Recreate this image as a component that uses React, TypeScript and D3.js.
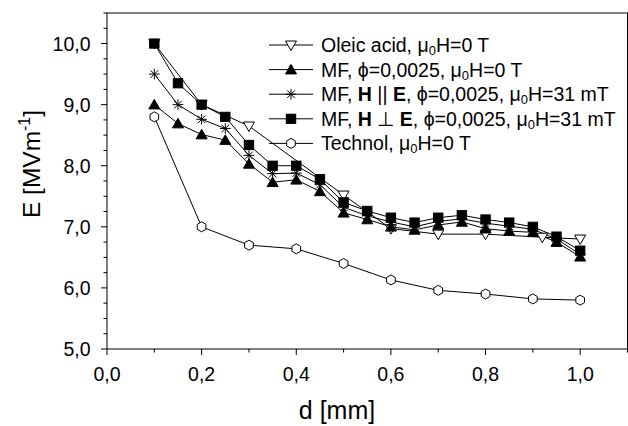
import React from 'react';
import * as d3 from 'd3';

const W = 628;
const H = 426;
const plot = { left: 107, right: 627.5, top: 13, bottom: 349 };
const FONT = "'Liberation Sans', Arial, sans-serif";

// thickness d [mm]
const dFine = [0.1, 0.15, 0.2, 0.25, 0.3, 0.35, 0.4, 0.45, 0.5, 0.55, 0.6, 0.65, 0.7, 0.75, 0.8, 0.85, 0.9, 0.95, 1.0];
const dOleic = [0.1, 0.2, 0.3, 0.5, 0.6, 0.7, 0.8, 0.92, 1.0];
const dTechnol = [0.1, 0.2, 0.3, 0.4, 0.5, 0.6, 0.7, 0.8, 0.9, 1.0];

// breakdown field E [MV/m]
const eOleic = [10.0, 9.0, 8.65, 7.52, 6.97, 6.88, 6.88, 6.83, 6.8];
const eMF = [9.0, 8.69, 8.51, 8.42, 8.03, 7.73, 7.77, 7.58, 7.23, 7.12, 7.0, 6.95, 7.03, 7.08, 6.97, 6.93, 6.91, 6.75, 6.51];
const eParallel = [9.5, 9.0, 8.76, 8.61, 8.17, 7.87, 7.88, 7.69, 7.32, 7.18, 7.08, 7.0, 7.09, 7.13, 7.06, 7.01, 6.96, 6.8, 6.55];
const ePerp = [10.0, 9.35, 9.0, 8.8, 8.34, 8.0, 8.0, 7.78, 7.4, 7.26, 7.15, 7.07, 7.15, 7.19, 7.12, 7.07, 7.0, 6.84, 6.61];
const eTechnol = [8.8, 7.0, 6.7, 6.64, 6.4, 6.13, 5.96, 5.9, 5.82, 5.8];

const xTicks = [0, 0.2, 0.4, 0.6, 0.8, 1.0];
const yTicks = [5, 6, 7, 8, 9, 10];

type Seg = { t: string; b?: boolean; sub?: boolean };

const series = [
  { key: 'oleic', d: dOleic, e: eOleic, marker: 'triDown', label: [{ t: 'Oleic acid, μ' }, { t: '0', sub: true }, { t: 'H=0 T' }] as Seg[] },
  { key: 'mf', d: dFine, e: eMF, marker: 'triUp', label: [{ t: 'MF, ϕ=0,0025, μ' }, { t: '0', sub: true }, { t: 'H=0 T' }] as Seg[] },
  { key: 'par', d: dFine, e: eParallel, marker: 'star', label: [{ t: 'MF, ' }, { t: 'H', b: true }, { t: ' || ' }, { t: 'E', b: true }, { t: ', ϕ=0,0025, μ' }, { t: '0', sub: true }, { t: 'H=31 mT' }] as Seg[] },
  { key: 'perp', d: dFine, e: ePerp, marker: 'square', label: [{ t: 'MF, ' }, { t: 'H', b: true }, { t: ' ⊥ ' }, { t: 'E', b: true }, { t: ', ϕ=0,0025, μ' }, { t: '0', sub: true }, { t: 'H=31 mT' }] as Seg[] },
  { key: 'tech', d: dTechnol, e: eTechnol, marker: 'hex', label: [{ t: 'Technol, μ' }, { t: '0', sub: true }, { t: 'H=0 T' }] as Seg[] },
];

const Marker = ({ type, x, y }: { type: string; x: number; y: number }) => {
  const s = { stroke: '#000', strokeWidth: 1 };
  if (type === 'triDown') {
    return <path d={`M${x - 5.5},${y - 4} L${x + 5.5},${y - 4} L${x},${y + 5.5} Z`} fill="#fff" {...s} />;
  }
  if (type === 'triUp') {
    return <path d={`M${x - 5.5},${y + 4.3} L${x + 5.5},${y + 4.3} L${x},${y - 5.2} Z`} fill="#000" {...s} />;
  }
  if (type === 'square') {
    return <rect x={x - 4.7} y={y - 4.6} width={9.4} height={9.2} fill="#000" {...s} />;
  }
  if (type === 'hex') {
    const pts = d3.range(6).map(i => {
      const a = Math.PI / 6 + (i * Math.PI) / 3;
      return [x + 5 * Math.cos(a), y + 5 * Math.sin(a)];
    });
    return <path d={'M' + pts.map(p => p.join(',')).join('L') + 'Z'} fill="#fff" {...s} />;
  }
  // star: eight arms
  const r = 5.3;
  const k = r * 0.72;
  return (
    <path
      d={`M${x - r},${y}L${x + r},${y}M${x},${y - r}L${x},${y + r}M${x - k},${y - k}L${x + k},${y + k}M${x - k},${y + k}L${x + k},${y - k}`}
      fill="none"
      {...s}
    />
  );
};

const Label = ({ x, y, anchor = 'start', size = 19.5, children }: any) => (
  <text x={x} y={y} textAnchor={anchor} fontSize={size} fontFamily={FONT} fill="#000">
    {children}
  </text>
);

const fmt = (v: number) => d3.format('.1f')(v).replace('.', ',');

export default function App() {
  const x = d3.scaleLinear().domain([0, 1.1]).range([plot.left, plot.right]);
  const y = d3.scaleLinear().domain([5, 10.5]).range([plot.bottom, plot.top]);
  const line = d3.line<[number, number]>().x(p => x(p[0])).y(p => y(p[1]));

  const yMinor = d3.range(5, 10.51, 0.25);
  const xMinor = d3.range(0, 1.101, 0.1);

  const legX = 269;
  const legY0 = 45;
  const legDy = 24.6;

  return (
    <div style={{ position: 'fixed', left: 0, top: 0 }}>
      <svg width={W} height={H} style={{ display: 'block', background: '#fff' }}>
        {/* frame */}
        <rect x={plot.left} y={plot.top} width={plot.right - plot.left} height={plot.bottom - plot.top} fill="none" stroke="#000" strokeWidth={1} />

        {/* y axis */}
        {yMinor.map(v => {
          const major = Math.abs(v - Math.round(v)) < 1e-6;
          return <line key={'ym' + v} x1={plot.left} x2={plot.left - (major ? 6 : 3.5)} y1={y(v)} y2={y(v)} stroke="#000" />;
        })}
        {yTicks.map(v => (
          <Label key={'yt' + v} x={plot.left - 16.5} y={y(v) + 7} anchor="end">{fmt(v)}</Label>
        ))}

        {/* x axis */}
        {xMinor.map(v => {
          const major = Math.abs(v * 5 - Math.round(v * 5)) < 1e-6;
          return <line key={'xm' + v} x1={x(v)} x2={x(v)} y1={plot.bottom} y2={plot.bottom + (major ? 6 : 3.5)} stroke="#000" />;
        })}
        {xTicks.map(v => (
          <Label key={'xt' + v} x={x(v)} y={plot.bottom + 32} anchor="middle">{fmt(v)}</Label>
        ))}

        {/* axis titles */}
        <Label x={337} y={419} anchor="middle" size={25}>d [mm]</Label>
        <text transform="translate(40,164) rotate(-90)" textAnchor="middle" fontSize={24.5} fontFamily={FONT}>
          E [MVm<tspan fontSize={16} dy={-10}>-1</tspan><tspan dy={10}>]</tspan>
        </text>

        {/* lines */}
        {series.map(s => (
          <path key={'l' + s.key} d={line(s.d.map((d, i) => [d, s.e[i]] as [number, number])) || ''} fill="none" stroke="#000" strokeWidth={1} />
        ))}
        {/* markers */}
        {series.map(s => (
          <g key={'m' + s.key}>
            {s.d.map((d, i) => (
              <Marker key={i} type={s.marker} x={x(d)} y={y(s.e[i])} />
            ))}
          </g>
        ))}

        {/* legend */}
        {series.map((s, i) => {
          const ly = legY0 + i * legDy;
          return (
            <g key={'lg' + s.key}>
              <line x1={legX} x2={legX + 44} y1={ly} y2={ly} stroke="#000" />
              <Marker type={s.marker} x={legX + 22} y={ly} />
              <Label x={legX + 52} y={ly + 7}>
                {s.label.map((seg, j) =>
                  seg.sub ? (
                    <tspan key={j} fontSize={13} dy={3}>{seg.t}</tspan>
                  ) : (
                    <tspan key={j} fontWeight={seg.b ? 'bold' : 'normal'} dy={j > 0 && s.label[j - 1].sub ? -3 : 0}>{seg.t}</tspan>
                  )
                )}
              </Label>
            </g>
          );
        })}
      </svg>
    </div>
  );
}
